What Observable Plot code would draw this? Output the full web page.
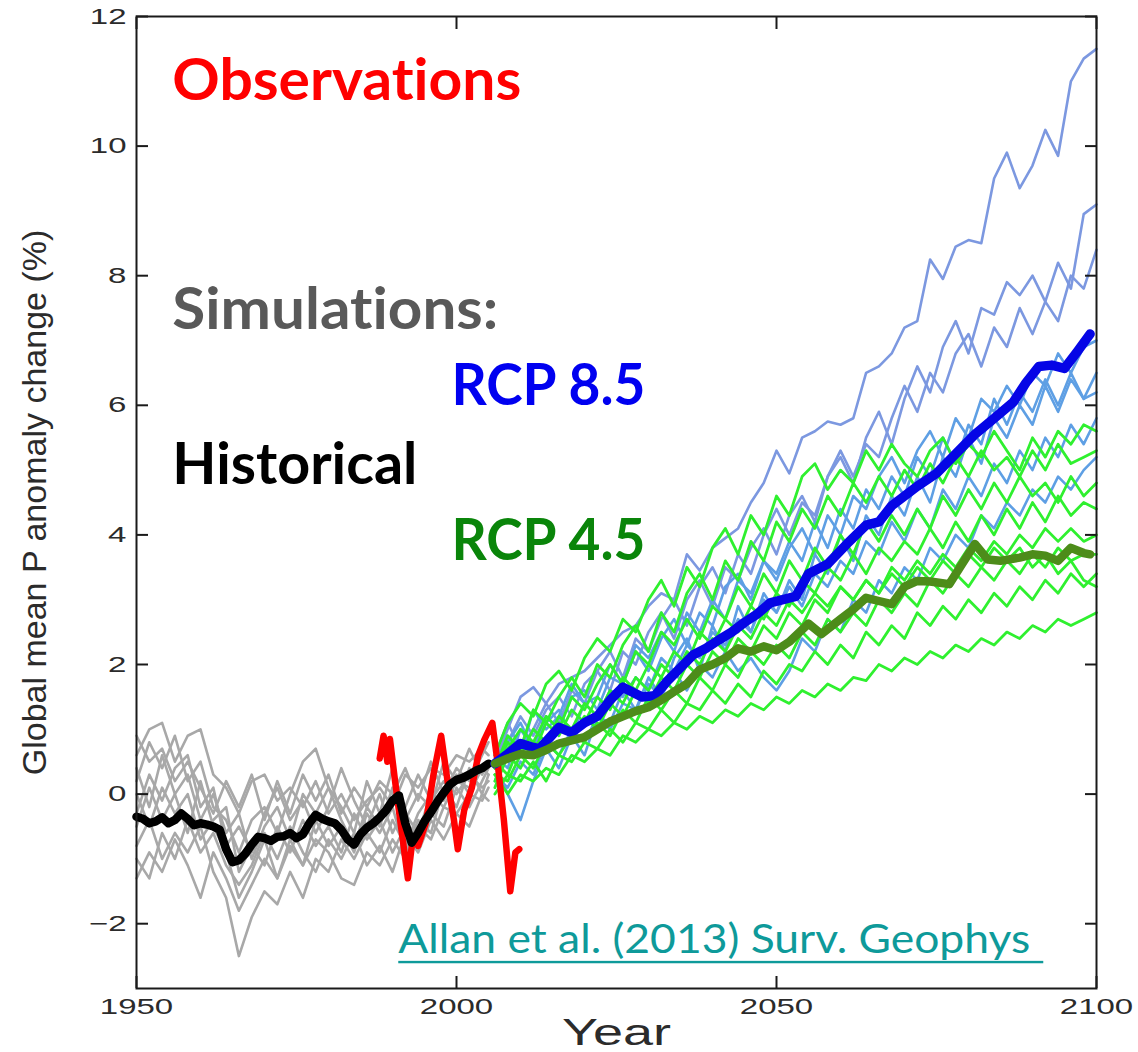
<!DOCTYPE html>
<html>
<head>
<meta charset="utf-8">
<script src="https://cdn.jsdelivr.net/npm/d3@7"></script>
<script src="https://cdn.jsdelivr.net/npm/@observablehq/plot@0.6"></script>
<style>
  html, body { margin: 0; padding: 0; background: #fff; }
  #chart { width: 1138px; height: 1052px; }
  svg text { font-variant-ligatures: none; font-feature-settings: "liga" 0; }
</style>
</head>
<body>
<div id="chart"></div>
<script>
// ---------------- data ----------------
const yTicks = [-2, 0, 2, 4, 6, 8, 10, 12];
const xTicks = [1950, 2000, 2050, 2100];

// historical ensemble members (every 2 years, 1950-2005)
const histYears = [1950,1952,1954,1956,1958,1960,1962,1964,1966,1968,1970,1972,1974,1976,1978,1980,1982,1984,1986,1988,1990,1992,1994,1996,1998,2000,2002,2004,2005];
const historicalRuns = [
  [0.6,1.0,1.1,0.5,0.9,1.0,0.3,0.1,-0.3,0.2,0.3,-0.1,0.1,-0.2,0.2,-0.3,0.0,-0.4,-0.1,0.1,-0.2,0.3,0.1,0.4,0.3,0.6,0.5,0.7,0.6],
  [0.2,0.8,0.4,0.9,0.2,0.5,-0.2,-0.4,-0.9,-0.4,-0.2,-0.6,0.0,0.5,0.7,0.1,-0.2,-0.6,0.2,-0.3,0.4,-0.4,0.0,-0.2,0.5,0.2,0.7,0.3,0.5],
  [-0.3,0.3,-0.1,0.4,0.6,-0.2,0.1,-0.8,-0.5,-0.9,-0.3,0.1,-0.4,-0.1,-0.6,-0.2,0.4,-0.1,-0.5,0.0,-0.6,-0.2,0.3,-0.1,0.2,0.0,0.3,0.1,0.2],
  [-0.8,-0.4,-1.0,-0.6,-0.9,-0.5,-1.2,-1.6,-2.5,-1.9,-1.5,-1.7,-1.2,-1.6,-1.0,-1.2,-0.7,-1.0,-0.6,-0.9,-0.4,-0.8,-0.3,0.0,-0.2,0.2,0.1,0.4,0.3],
  [-1.3,-0.9,-1.2,-0.7,-1.1,-1.6,-0.9,-1.3,-1.8,-1.4,-1.0,-1.3,-0.8,-1.1,-0.7,-0.9,-1.3,-1.4,-0.9,-1.1,-0.7,-1.0,-0.5,-0.7,-0.2,-0.3,0.0,-0.1,0.1],
  [0.0,-0.5,0.1,-0.3,0.0,-0.7,-0.4,-0.2,-1.2,-0.8,-1.1,-0.5,-0.9,-0.4,-0.8,-0.5,-0.9,-0.3,-0.7,-0.4,-0.9,-0.5,-0.8,-0.3,-0.5,0.1,-0.2,0.2,0.4],
  [0.9,0.5,0.7,0.2,0.5,0.1,-0.3,0.2,-0.2,0.3,-0.4,0.2,-0.3,0.3,-0.1,0.3,-0.3,0.1,-0.2,0.2,0.0,0.4,-0.1,0.5,0.0,0.4,0.2,0.6,0.8],
  [-1.0,-1.3,-0.6,-1.0,-0.4,-0.9,-0.6,-1.1,-1.4,-1.1,-0.6,-1.0,-0.5,-0.9,-1.2,-0.7,-1.0,-0.6,-1.1,-0.8,-1.2,-0.6,-0.9,-0.4,-0.7,-0.3,-0.5,0.0,-0.1],
  [-0.5,0.1,-0.4,0.0,-0.6,0.2,-0.5,-0.9,-1.6,-1.2,-0.7,-1.3,-0.7,-1.1,-0.4,-0.8,-0.5,-0.9,-0.3,-0.6,-0.2,-0.9,-0.4,-0.6,0.1,-0.2,0.4,0.0,0.3],
  [0.4,-0.2,0.6,0.0,0.3,-0.4,0.0,-0.6,-0.3,-1.0,-0.5,-0.2,-0.7,0.0,-0.3,0.1,-0.4,-0.8,-0.2,-0.5,0.1,-0.3,-0.6,0.0,-0.1,0.3,0.0,0.4,0.5]
];

// historical multi-model mean
const histMeanYears = [1950,1951,1952,1953,1954,1955,1956,1957,1958,1959,1960,1961,1962,1963,1964,1965,1966,1967,1968,1969,1970,1971,1972,1973,1974,1975,1976,1977,1978,1979,1980,1981,1982,1983,1984,1985,1986,1987,1988,1989,1990,1991,1992,1993,1994,1995,1996,1997,1998,1999,2000,2001,2002,2003,2004,2005];
const histMean = [-0.35,-0.38,-0.45,-0.42,-0.36,-0.45,-0.40,-0.30,-0.38,-0.48,-0.45,-0.47,-0.50,-0.55,-0.85,-1.05,-1.02,-0.92,-0.78,-0.66,-0.68,-0.72,-0.66,-0.65,-0.60,-0.68,-0.62,-0.45,-0.32,-0.38,-0.42,-0.45,-0.55,-0.70,-0.78,-0.62,-0.52,-0.45,-0.36,-0.25,-0.10,-0.02,-0.45,-0.75,-0.60,-0.42,-0.28,-0.12,0.02,0.15,0.22,0.25,0.30,0.36,0.40,0.47];

// observations
const obsYears = [1988.0,1988.6,1989.2,1989.6,1990.4,1991.4,1992.4,1993.2,1994.0,1995.2,1996.4,1997.6,1998.6,1999.6,2000.2,2001.2,2002.4,2003.4,2004.4,2005.6,2006.4,2007.4,2008.4,2009.2,2009.8];
const obsValues = [0.55,0.9,0.5,0.85,0.2,-0.55,-1.3,-0.65,-0.8,-0.45,0.3,0.9,0.2,-0.4,-0.85,-0.25,0.1,0.6,0.85,1.1,0.5,-0.4,-1.5,-0.9,-0.85];

// scenario ensemble members (every 2 years, 2006-2100)
const futureYears = [2006,2008,2010,2012,2014,2016,2018,2020,2022,2024,2026,2028,2030,2032,2034,2036,2038,2040,2042,2044,2046,2048,2050,2052,2054,2056,2058,2060,2062,2064,2066,2068,2070,2072,2074,2076,2078,2080,2082,2084,2086,2088,2090,2092,2094,2096,2098,2100];
const rcp85Runs = [
  [0.5,1.0,1.5,1.65,1.4,1.7,1.8,1.9, 2.1,2.3,2.5,2.6,2.9,3.1,3.0,3.7, 3.45,3.8,3.95,4.1,4.5,4.8,5.3,4.95, 5.5,5.6,5.75,5.7,5.8,6.5,6.6,6.8, 7.2,7.3,8.25,7.95,8.45,8.55,8.5,9.5, 9.9,9.35,9.7,10.25,9.85,11.0,11.35,11.5],
  [0.4,0.8,1.2,0.9,1.3,1.5,1.2,1.7, 1.9,1.6,2.2,2.0,2.5,2.8,2.4,3.0, 3.3,2.9,3.5,3.3,3.8,4.1,3.7,4.3, 4.6,4.2,4.9,5.2,4.8,5.5,5.9,5.4, 6.1,6.6,6.2,6.9,7.3,6.8,7.5,7.4, 7.9,7.7,8.0,7.6,8.2,7.8,8.95,9.1],
  [0.6,1.1,0.7,1.0,1.4,1.1,1.6,1.4, 1.9,2.2,1.8,2.4,2.2,2.7,3.0,2.6, 3.2,3.5,3.1,3.7,3.4,4.0,4.4,4.0, 4.5,4.3,4.9,5.3,4.9,5.4,5.2,5.8, 6.3,5.9,6.5,6.2,6.8,7.1,6.6,7.2, 6.9,7.5,7.1,7.6,7.3,8.0,7.8,8.4],
  [0.2,0.8,1.1,0.7,1.2,1.0,1.5,1.6, 1.3,1.8,1.7,2.2,1.9,2.4,2.7,2.3, 2.8,2.6,3.2,3.4,3.0,3.6,3.3,3.8, 4.1,3.7,4.3,4.0,4.6,4.4,4.9,5.2, 4.8,5.3,5.6,5.2,5.8,5.5,6.1,5.9, 6.3,6.0,6.5,6.3,6.8,6.5,6.9,7.0],
  [0.5,0.0,-0.4,0.2,0.7,0.4,0.9,0.6, 1.2,1.1,1.6,1.3,1.8,1.5,2.1,2.4, 1.9,2.6,2.2,2.9,2.5,3.1,2.8,3.3, 3.0,3.7,3.4,4.0,3.6,4.3,4.0,4.6, 4.3,4.9,4.5,5.2,4.9,5.5,5.1,5.8, 5.5,6.0,5.7,6.3,5.9,6.4,6.1,6.5],
  [0.4,0.9,0.6,1.3,1.0,1.2,1.7,1.4, 1.5,2.0,1.7,2.3,2.1,2.5,2.2,2.8, 2.5,3.0,2.7,3.3,3.1,3.6,3.4,3.9, 3.6,4.2,3.8,4.4,4.1,4.7,4.4,4.9, 4.6,5.2,4.9,5.5,5.1,5.7,5.4,6.1, 5.7,6.2,5.9,6.4,6.0,6.5,6.1,6.2],
  [0.6,0.4,1.0,0.7,1.1,1.3,0.9,1.4, 1.2,1.6,1.5,1.8,1.6,2.1,1.9,2.3, 2.1,2.5,2.3,2.7,2.5,3.0,2.8,3.2, 2.9,3.4,3.2,3.6,3.4,3.9,3.7,4.2, 3.9,4.4,4.1,4.7,4.4,4.9,4.6,5.1, 4.8,5.3,5.0,5.5,5.2,5.7,5.4,5.8],
  [0.3,0.1,0.5,0.3,0.8,0.6,1.0,0.8, 1.2,1.0,1.4,1.3,1.7,1.5,1.9,1.6, 2.0,1.8,2.2,1.9,2.1,1.8,1.6,1.9, 2.4,2.2,2.7,2.5,3.0,2.8,3.3,3.1, 3.5,3.3,3.8,3.6,4.0,3.8,4.3,4.1, 4.5,4.3,4.7,4.5,4.9,4.7,5.0,5.2]
];
const rcp45Runs = [
  [0.6,1.1,1.4,1.2,1.7,1.9,1.6,2.1, 2.4,2.2,2.7,2.5,3.0,3.3,2.9,3.5, 3.2,3.8,4.1,3.7,4.3,4.0,4.6,4.3, 4.9,5.1,4.7,5.0,4.8,5.3,5.0,5.4, 5.1,4.9,5.3,5.5,5.1,5.4,5.2,5.6, 5.3,5.0,5.5,5.2,5.6,5.4,5.7,5.6],
  [0.4,0.9,0.7,1.3,1.1,1.5,1.8,1.5, 2.0,1.8,2.3,2.6,2.2,2.8,2.5,3.1, 3.4,3.0,3.6,3.3,3.9,3.6,4.2,3.9, 4.4,4.1,4.6,4.3,4.8,4.5,4.9,4.6, 5.0,4.7,5.1,4.8,5.2,4.9,5.3,5.0, 5.2,4.9,5.3,5.0,5.4,5.1,5.2,5.3],
  [0.2,0.7,1.0,0.8,1.2,1.0,1.5,1.3, 1.7,2.0,1.7,2.2,2.0,2.5,2.3,2.7, 2.4,2.9,2.7,3.2,2.9,3.4,3.1,3.6, 3.3,3.8,3.5,4.0,3.7,4.2,3.9,4.3, 4.0,4.4,4.1,4.6,4.3,4.7,4.4,4.8, 4.5,4.9,4.6,4.8,4.5,4.9,4.6,4.8],
  [0.5,0.3,0.8,0.6,1.1,0.9,1.3,1.1, 1.5,1.3,1.8,1.6,2.0,1.8,2.2,2.0, 2.5,2.3,2.7,2.5,2.9,2.7,3.1,2.9, 3.3,3.1,3.5,3.3,3.7,3.4,3.8,3.6, 3.9,3.7,4.1,3.8,4.2,3.9,4.3,4.0, 4.4,4.1,4.5,4.2,4.6,4.3,4.5,4.4],
  [0.1,0.6,0.4,0.8,0.7,1.1,0.9,1.2, 1.0,1.4,1.2,1.6,1.4,1.8,1.6,2.0, 1.8,2.2,2.0,2.4,2.2,2.6,2.4,2.8, 2.6,3.0,2.8,3.2,3.0,3.3,3.1,3.5, 3.3,3.6,3.4,3.7,3.5,3.8,3.6,3.9, 3.7,4.0,3.8,4.1,3.9,4.1,3.9,4.0],
  [0.3,0.2,0.6,0.4,0.8,0.6,0.9,0.8, 1.1,0.9,1.3,1.1,1.5,1.3,1.6,1.4, 1.8,1.6,2.0,1.8,2.2,2.0,2.3,2.1, 2.5,2.3,2.7,2.5,2.8,2.6,3.0,2.8, 3.1,2.9,3.3,3.1,3.4,3.2,3.5,3.3, 3.6,3.4,3.7,3.5,3.8,3.6,3.7,3.7],
  [0.0,0.3,0.2,0.5,0.2,0.6,0.5,0.8, 0.7,1.0,0.8,1.1,1.0,1.3,1.1,1.4, 1.3,1.6,1.4,1.7,1.5,1.9,1.7,2.0, 1.9,2.2,2.0,2.3,2.1,2.5,2.3,2.6, 2.4,2.8,2.6,2.9,2.7,3.0,2.8,3.1, 2.9,3.2,3.0,3.3,3.1,3.4,3.2,3.4],
  [0.3,0.0,0.3,0.2,0.4,0.3,0.6,0.5, 0.7,0.6,0.9,0.8,1.0,0.9,1.1,1.0, 1.2,1.1,1.3,1.2,1.4,1.3,1.5,1.4, 1.6,1.5,1.7,1.6,1.8,1.75,2.0,1.9, 2.1,2.0,2.2,2.1,2.3,2.2,2.4,2.3, 2.5,2.4,2.6,2.5,2.7,2.6,2.7,2.8],
  [0.4,0.8,0.6,1.0,0.8,1.2,1.0,1.4, 1.2,1.6,1.4,1.8,1.6,2.0,1.8,2.2, 2.0,2.4,2.2,2.6,2.4,2.8,2.6,3.0, 2.8,3.1,2.9,3.2,3.0,3.3,3.1,3.4, 3.2,3.5,3.3,3.6,3.4,3.7,3.5,3.8, 3.6,3.8,3.5,3.7,3.4,3.6,3.3,3.2]
];

// scenario multi-model means
const rcp85MeanYears = [2006,2008,2010,2012,2013,2015,2016,2018,2020,2022,2024,2026,2027,2029,2031,2033,2035,2037,2039,2041,2043,2045,2047,2049,2051,2053,2055,2058,2061,2064,2066,2068,2070,2072,2075,2078,2081,2084,2087,2089,2091,2093,2095,2097,2099];
const rcp85Mean = [0.47,0.62,0.78,0.72,0.70,0.92,1.03,0.95,1.10,1.20,1.45,1.65,1.60,1.50,1.52,1.75,1.95,2.15,2.25,2.38,2.50,2.65,2.78,2.95,3.00,3.05,3.40,3.55,3.86,4.15,4.20,4.45,4.60,4.75,4.95,5.25,5.55,5.80,6.05,6.35,6.60,6.62,6.57,6.83,7.10];
const rcp45MeanYears = [2006,2008,2010,2012,2014,2016,2018,2020,2022,2024,2026,2028,2030,2032,2034,2036,2038,2040,2042,2044,2046,2048,2050,2052,2055,2057,2060,2062,2064,2066,2068,2070,2072,2074,2077,2079,2081,2083,2085,2088,2090,2092,2094,2096,2098,2099];
const rcp45Mean = [0.47,0.55,0.62,0.60,0.68,0.78,0.83,0.88,1.00,1.12,1.20,1.28,1.34,1.45,1.58,1.70,1.92,2.00,2.10,2.25,2.20,2.28,2.22,2.35,2.63,2.47,2.70,2.85,3.03,2.98,2.93,3.20,3.29,3.28,3.24,3.55,3.86,3.62,3.60,3.65,3.70,3.68,3.60,3.80,3.72,3.70];

// text
const labelTexts = ["Observations", "Simulations:", "RCP 8.5", "Historical", "RCP 4.5"];
const citation = "Allan et al. (2013) Surv. Geophys";
const yTitle = "Global mean P anomaly change (%)";
const xTitle = "Year";

// ---------------- tables ----------------
const runRows = (years, runs, tag) =>
  runs.flatMap((vals, i) => vals.map((v, j) => ({year: years[j], value: v, run: tag + i, k: i})));
const seriesRows = (years, vals) => vals.map((v, j) => ({year: years[j], value: v}));

const histRows = runRows(histYears, historicalRuns, "h");
const rcp85Rows = runRows(futureYears, rcp85Runs, "b");
const rcp45Rows = runRows(futureYears, rcp45Runs, "g");
const histMeanRows = seriesRows(histMeanYears, histMean);
const obsRows = seriesRows(obsYears, obsValues);
const rcp85MeanRows = seriesRows(rcp85MeanYears, rcp85Mean);
const rcp45MeanRows = seriesRows(rcp45MeanYears, rcp45Mean);

const calibri = "Lato, 'Open Sans', sans-serif";
const arial = "'Liberation Sans', Arial, sans-serif";
const ink = "#2b2b2b";
const teal = "#0e9a9a";

const note = (text, x, y, fill) =>
  Plot.text([text], {x: () => x, y: () => y, text: d => d, fill, fontSize: 58, fontWeight: "bold",
    fontFamily: calibri, textAnchor: "start", lineAnchor: "bottom"});

const svg = Plot.plot({
  width: 1138,
  height: 1052,
  marginLeft: 136,
  marginRight: 42,
  marginTop: 16,
  marginBottom: 64,
  style: {background: "#fff", fontFamily: arial},
  x: {domain: [1950, 2100]},
  y: {domain: [-3, 12]},
  marks: [
    // ensembles
    Plot.line(histRows, {x: "year", y: "value", z: "run", stroke: "#a8a8a8", strokeWidth: 2.6}),
    Plot.line(rcp85Rows, {x: "year", y: "value", z: "run",
      stroke: d => d.k < 3 ? "#7c98e0" : "#5e9fe4", strokeWidth: 2.6}),
    Plot.line(rcp45Rows, {x: "year", y: "value", z: "run", stroke: "#2ff02f", strokeWidth: 2.8}),
    // observations and means
    Plot.line(obsRows, {x: "year", y: "value", stroke: "#ff0000", strokeWidth: 6.5, strokeLinejoin: "round"}),
    Plot.line(histMeanRows, {x: "year", y: "value", stroke: "#000", strokeWidth: 8.5, strokeLinejoin: "round"}),
    Plot.line(rcp85MeanRows, {x: "year", y: "value", stroke: "#0505e6", strokeWidth: 9.5, strokeLinejoin: "round"}),
    Plot.line(rcp45MeanRows, {x: "year", y: "value", stroke: "#4d8c1a", strokeWidth: 8.5, strokeLinejoin: "round"}),
    // axes with inward ticks on all four sides
    Plot.frame({stroke: "#1a1a1a", strokeWidth: 2}),
    Plot.axisY({anchor: "left", ticks: yTicks, tickSize: -12, tickPadding: 22, fontSize: 22,
      fill: ink, label: null, stroke: "#1a1a1a", strokeWidth: 2}),
    Plot.axisY({anchor: "right", ticks: yTicks, tickSize: -12, tickFormat: () => "", label: null,
      stroke: "#1a1a1a", strokeWidth: 2}),
    Plot.axisX({anchor: "bottom", ticks: xTicks, tickSize: -12, tickPadding: 22, fontSize: 22,
      fill: ink, label: null, tickFormat: d => String(d), stroke: "#1a1a1a", strokeWidth: 2}),
    Plot.axisX({anchor: "top", ticks: xTicks, tickSize: -12, tickFormat: () => "", label: null,
      stroke: "#1a1a1a", strokeWidth: 2}),
    // axis titles
    Plot.text([yTitle], {frameAnchor: "left", dx: -101, rotate: -90, text: d => d, fontSize: 34,
      fill: ink, fontFamily: arial, textAnchor: "middle", lineAnchor: "middle"}),
    Plot.text([xTitle], {frameAnchor: "bottom", dy: 56, text: d => d, fontSize: 36,
      fill: ink, fontFamily: arial, textAnchor: "middle", lineAnchor: "bottom"}),
    // annotations
    note(labelTexts[0], 1955.6, 10.71, "#ff0000"),
    note(labelTexts[1], 1955.6, 7.17, "#595959"),
    note(labelTexts[2], 1999.2, 6.0, "#0000f0"),
    note(labelTexts[3], 1955.6, 4.78, "#000000"),
    note(labelTexts[4], 1999.2, 3.62, "#0a850a"),
    Plot.text([citation], {x: () => 1990.9, y: () => -2.45, text: d => d, fill: teal,
      fontSize: 40, fontFamily: calibri, textAnchor: "start", lineAnchor: "bottom"})
  ]
});

document.getElementById("chart").appendChild(svg);

// finishing touches on the rendered texts
const root = d3.select(svg);
const byText = t => root.selectAll("text").filter(function () { return this.textContent === t; });
const fit = (sel, w) => sel.attr("textLength", w).attr("lengthAdjust", "spacingAndGlyphs");

// the tick numerals and the x title are drawn wide
root.selectAll("text").filter(function () {
  return /^[−\-]?\d+$/.test(this.textContent) || this.textContent === xTitle;
}).each(function () {
  const w = this.getComputedTextLength();
  if (w > 0) fit(d3.select(this), (w * 1.5).toFixed(1));
});

// annotation widths
fit(byText(labelTexts[0]), 349);
fit(byText(labelTexts[1]), 326);
fit(byText(labelTexts[2]), 194);
fit(byText(labelTexts[3]), 245);
fit(byText(labelTexts[4]), 194);

// underlined reference, the rule running a little past the last word
byText(citation).each(function () {
  fit(d3.select(this), 632);
  const b = this.getBBox();
  d3.select(this.parentNode).insert("rect", () => this.nextSibling)
    .attr("transform", this.getAttribute("transform"))
    .attr("x", b.x).attr("y", 8)
    .attr("width", 645).attr("height", 2.4)
    .attr("fill", teal);
});
</script>
</body>
</html>
